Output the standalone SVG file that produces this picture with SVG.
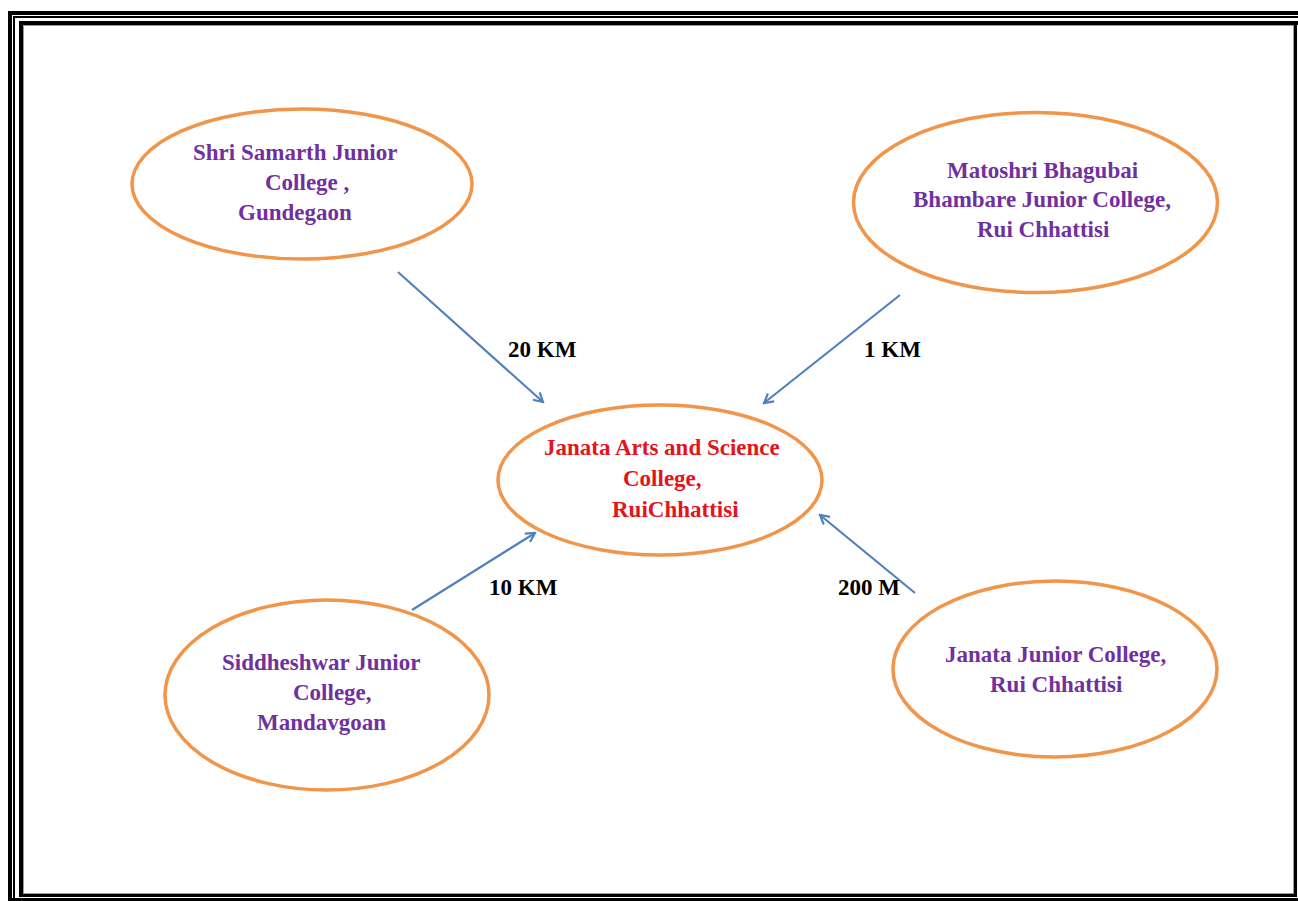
<svg xmlns="http://www.w3.org/2000/svg" width="1298" height="901" viewBox="0 0 1298 901">
<style>
.node ellipse{fill:#fff;stroke:#F0954A;stroke-width:3.5}
.nt{font-family:"Liberation Serif",serif;font-weight:bold;font-size:23px;fill:#7030A0}
.ct{font-family:"Liberation Serif",serif;font-weight:bold;font-size:23px;fill:#E3141B}
.lbl{font-family:"Liberation Serif",serif;font-weight:bold;font-size:23px;fill:#000}
.conn line{stroke:#4F81BD;stroke-width:2.2;marker-end:url(#ah)}
</style>
<defs>
<marker id="ah" viewBox="0 0 12 12" refX="10" refY="6" markerWidth="12" markerHeight="12" markerUnits="userSpaceOnUse" orient="auto">
<path d="M1,1 L10,6 L1,11" fill="none" stroke="#4F81BD" stroke-width="2.2"/>
</marker>
</defs>
<rect width="1298" height="901" fill="#fff"/>
<g id="frame">
<rect x="8" y="11" width="4" height="890" fill="#000"/>
<rect x="13" y="16" width="2" height="885" fill="#000"/>
<rect x="19" y="21" width="4" height="876" fill="#000"/>
<rect x="8" y="11" width="1290" height="4" fill="#000"/>
<rect x="13" y="16" width="1285" height="2" fill="#000"/>
<rect x="19" y="21" width="1279" height="4" fill="#000"/>
<rect x="23" y="25" width="1" height="869" fill="#999"/>
<rect x="24" y="25" width="1270" height="1" fill="#999"/>
<rect x="1293" y="26" width="1" height="868" fill="#999"/>
<rect x="1294" y="25" width="3" height="872" fill="#000"/>
<rect x="23" y="893" width="1271" height="1" fill="#999"/>
<rect x="19" y="894" width="1278" height="3" fill="#000"/>
<rect x="8" y="898" width="1290" height="3" fill="#000"/>
</g>
<g class="conn" id="connectors">
<line x1="398" y1="272" x2="543" y2="402"/>
<line x1="900" y1="295" x2="764" y2="403"/>
<line x1="412" y1="610" x2="535" y2="533"/>
<line x1="915" y1="593" x2="820" y2="515"/>
</g>
<g id="labels">
<text class="lbl" x="508" y="357">20 KM</text>
<text class="lbl" x="864" y="357">1 KM</text>
<text class="lbl" x="489" y="595">10 KM</text>
<text class="lbl" x="838" y="595">200 M</text>
</g>
<g class="node" id="n-shri">
<ellipse cx="302" cy="184" rx="170" ry="75"/>
<text class="nt" x="193" y="160">Shri Samarth Junior</text>
<text class="nt" x="265" y="190">College ,</text>
<text class="nt" x="238" y="220">Gundegaon</text>
</g>
<g class="node" id="n-matoshri">
<ellipse cx="1035.5" cy="202.5" rx="182" ry="90"/>
<text class="nt" x="947" y="178">Matoshri Bhagubai</text>
<text class="nt" x="913" y="207">Bhambare Junior College,</text>
<text class="nt" x="977" y="237">Rui Chhattisi</text>
</g>
<g class="node" id="n-center">
<ellipse cx="660" cy="480" rx="162" ry="75"/>
<text class="ct" x="544" y="455">Janata Arts and Science</text>
<text class="ct" x="623" y="486">College,</text>
<text class="ct" x="612" y="517">RuiChhattisi</text>
</g>
<g class="node" id="n-siddheshwar">
<ellipse cx="327" cy="695" rx="162" ry="95"/>
<text class="nt" x="222" y="670">Siddheshwar Junior</text>
<text class="nt" x="293" y="700">College,</text>
<text class="nt" x="257" y="730">Mandavgoan</text>
</g>
<g class="node" id="n-janata-jr">
<ellipse cx="1055" cy="669" rx="162" ry="88"/>
<text class="nt" x="945" y="662">Janata Junior College,</text>
<text class="nt" x="990" y="692">Rui Chhattisi</text>
</g>
</svg>
